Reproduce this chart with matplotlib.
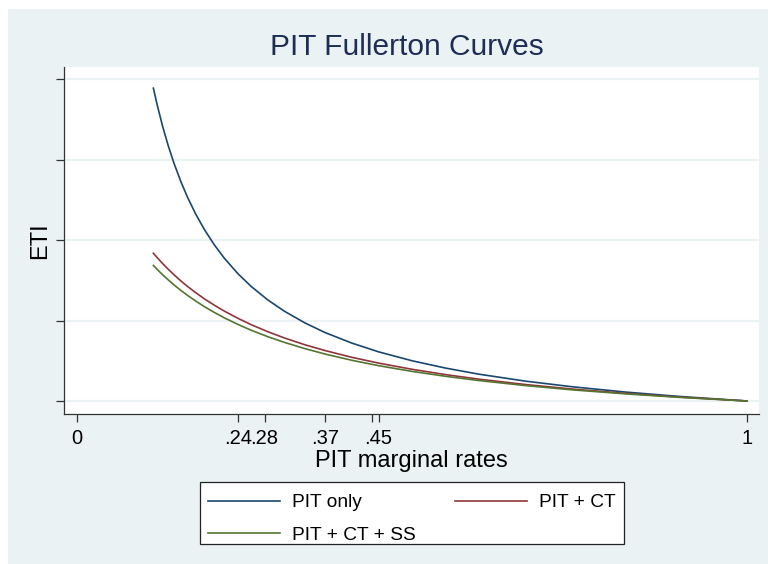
import matplotlib
matplotlib.use("Agg")
import matplotlib.pyplot as plt
from matplotlib.patches import Rectangle

plt.rcParams['font.family'] = ['Liberation Sans', 'DejaVu Sans']

# Data
rates = [0.114, 0.12, 0.128, 0.136, 0.145, 0.155, 0.165, 0.177, 0.19, 0.205,
         0.22, 0.24, 0.26, 0.285, 0.31, 0.34, 0.37, 0.41, 0.45, 0.5, 0.55,
         0.6, 0.67, 0.74, 0.82, 0.9, 1.0]
eti_pit = [3.886, 3.667, 3.406, 3.176, 2.948, 2.726, 2.530, 2.325, 2.132, 1.939,
           1.773, 1.583, 1.423, 1.254, 1.113, 0.971, 0.851, 0.720, 0.611, 0.500,
           0.409, 0.333, 0.246, 0.176, 0.110, 0.056, 0.0]
eti_pit_ct = [1.836, 1.778, 1.706, 1.638, 1.567, 1.492, 1.423, 1.347, 1.270, 1.190,
              1.116, 1.028, 0.948, 0.860, 0.782, 0.699, 0.627, 0.543, 0.471, 0.394,
              0.328, 0.271, 0.204, 0.148, 0.094, 0.048, 0.0]
eti_pit_ct_ss = [1.684, 1.632, 1.567, 1.506, 1.441, 1.374, 1.312, 1.243, 1.173, 1.100,
                 1.033, 0.952, 0.879, 0.798, 0.727, 0.651, 0.584, 0.506, 0.439, 0.368,
                 0.307, 0.254, 0.191, 0.138, 0.088, 0.045, 0.0]

series_labels = ["PIT only", "PIT + CT", "PIT + CT + SS"]
xtick_vals = [0, 0.24, 0.28, 0.37, 0.44, 0.45, 1]
xtick_labels = ["0", ".24", ".28", ".37", "", ".45", "1"]
ytick_vals = [0, 1, 2, 3, 4]

W, H = 768, 564
BG = "#EAF2F3"
fig = plt.figure(figsize=(W / 100, H / 100), dpi=100, facecolor="white")
fig.patches.append(Rectangle((8 / W, 0), 1 - 8 / W, 1 - 9 / H,
                             transform=fig.transFigure, facecolor=BG,
                             edgecolor="none", zorder=-10))
# legend box
fig.patches.append(Rectangle((200 / W, 1 - 544 / H), 424 / W, 62 / H,
                             transform=fig.transFigure, facecolor="white",
                             edgecolor="#222222", linewidth=0.9, zorder=1))

ax = fig.add_axes([64 / W, 1 - 414 / H, (759 - 64) / W, (414 - 67) / H])
ax.set_facecolor("white")

c_blue, c_red, c_green = "#1A476F", "#90353B", "#55752F"
l1, = ax.plot(rates, eti_pit, color=c_blue, lw=1.2, label=series_labels[0])
l2, = ax.plot(rates, eti_pit_ct, color=c_red, lw=1.2, label=series_labels[1])
l3, = ax.plot(rates, eti_pit_ct_ss, color=c_green, lw=1.2, label=series_labels[2])

ax.set_xlim((64 - 77) / 670, (759 - 77) / 670)
ax.set_ylim(-13 / 80.5, (401 - 67) / 80.5)

ax.set_xticks(xtick_vals)
ax.set_xticklabels(xtick_labels, fontsize=14.5)
ax.set_yticks(ytick_vals)
ax.set_yticklabels([])
ax.tick_params(axis="both", direction="out", length=6, width=0.9, color="#333333")
ax.tick_params(axis="x", pad=5)

for s in ["top", "right"]:
    ax.spines[s].set_visible(False)
for s in ["left", "bottom"]:
    ax.spines[s].set_color("#333333")
    ax.spines[s].set_linewidth(0.9)

ax.yaxis.grid(True, color=BG, lw=1.6)
ax.set_axisbelow(True)

ax.set_xlabel("PIT marginal rates", fontsize=17, labelpad=1)
ax.set_ylabel("ETI", fontsize=17, labelpad=0)

fig.text(407 / W, 1 - 47 / H, "PIT Fullerton Curves", fontsize=21.5,
         color="#1E2D55", ha="center", va="center")

leg = fig.legend([l1, l3, l2], [series_labels[0], series_labels[2], series_labels[1]],
                 ncol=2, loc="center",
                 bbox_to_anchor=(200 / W, 1 - 519 / H, 424 / W, 0),
                 mode="expand", fontsize=13.8, frameon=False,
                 handlelength=3.75, handletextpad=0.63, labelspacing=0.8,
                 borderpad=0.42, borderaxespad=0)
leg.set_zorder(2)

fig.savefig("out.png", dpi=100, facecolor=fig.get_facecolor())
